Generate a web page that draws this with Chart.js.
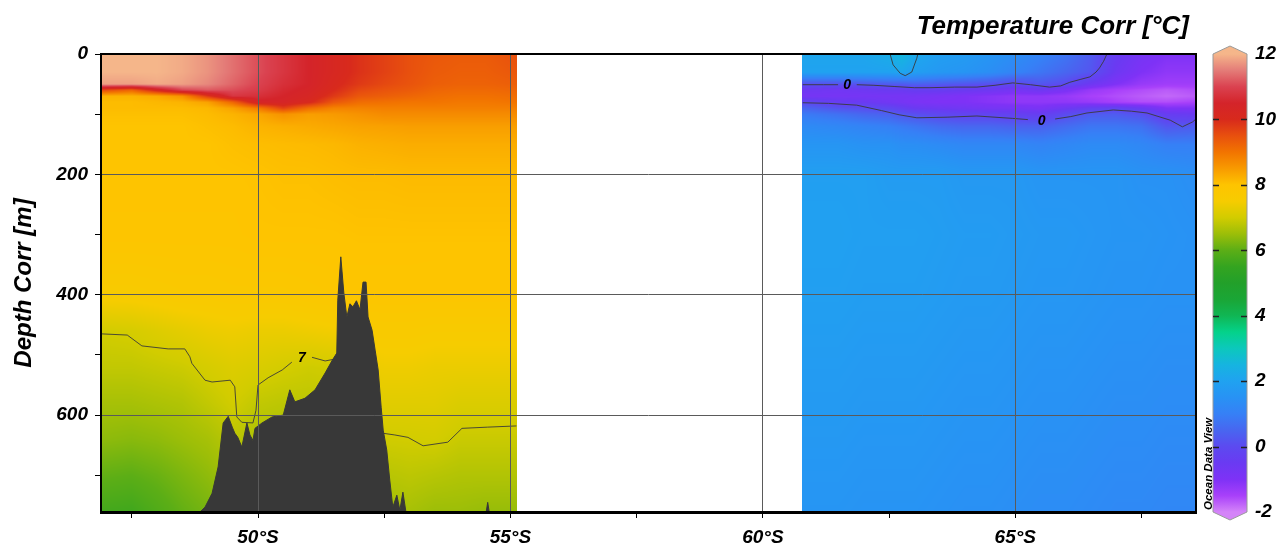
<!DOCTYPE html>
<html>
<head>
<meta charset="utf-8">
<title>Temperature Corr section</title>
<script src="https://cdn.jsdelivr.net/npm/chart.js@4.4.1/dist/chart.umd.min.js"></script>
<style>
  html, body { margin: 0; padding: 0; background: #fff; }
  #section { display: block; width: 1279px; height: 548px; }
</style>
</head>
<body>
<canvas id="section" width="1279" height="548"></canvas>
<script>
// axis ranges and ticks
const latMin = 46.89, latMax = 68.58;
const depthMax = 761;
const tempMin = -2, tempMax = 12;
const latTicks = [47.5, 50, 52.5, 55, 57.5, 60, 62.5, 65, 67.5];
const latLabelled = [50, 55, 60, 65];
const depthTicks = [0, 100, 200, 300, 400, 500, 600, 700];
const depthLabelled = [0, 200, 400, 600];
const tempTicks = [-2, 0, 2, 4, 6, 8, 10, 12];

// gridded temperature (rows = depthLevels, columns = station latitudes)
const depthLevels = [0, 30, 50, 60, 70, 80, 90, 100, 120, 150, 200, 300, 400, 460, 520, 580, 640, 700, 761];

const latWest = [46.89, 47.5, 48, 48.5, 49, 49.5, 50, 50.5, 51, 51.5, 52, 52.5, 53, 53.5, 54, 54.5, 55.13];
const tempWest = [
  [12.0, 12.0, 12.0, 11.9, 11.7, 11.4, 11.1, 10.8, 10.5, 10.2, 9.9, 9.7, 9.5, 9.4, 9.35, 9.35, 9.5],
  [12.0, 12.0, 12.0, 11.9, 11.7, 11.4, 11.1, 10.8, 10.5, 10.2, 9.9, 9.7, 9.5, 9.35, 9.3, 9.3, 9.4],
  [11.8, 11.8, 11.9, 11.8, 11.6, 11.3, 11.0, 10.7, 10.5, 10.1, 9.8, 9.6, 9.45, 9.3, 9.25, 9.25, 9.3],
  [9.6, 9.2, 10.2, 11.0, 11.2, 11.1, 10.9, 10.6, 10.4, 10.0, 9.6, 9.45, 9.35, 9.2, 9.15, 9.15, 9.2],
  [8.2, 8.2, 8.3, 8.6, 9.8, 10.8, 10.7, 10.5, 10.3, 9.8, 9.4, 9.3, 9.2, 9.1, 9.05, 9.05, 9.1],
  [8.1, 8.1, 8.15, 8.2, 8.4, 9.2, 10.4, 10.4, 10.1, 9.4, 9.1, 9.05, 9.0, 9.0, 8.95, 8.95, 9.0],
  [8.1, 8.1, 8.1, 8.1, 8.15, 8.4, 8.9, 9.7, 9.1, 8.8, 8.8, 8.85, 8.85, 8.85, 8.85, 8.85, 8.85],
  [8.05, 8.05, 8.05, 8.05, 8.1, 8.2, 8.35, 8.6, 8.45, 8.5, 8.6, 8.7, 8.7, 8.7, 8.7, 8.7, 8.7],
  [8.0, 8.0, 8.0, 8.0, 8.05, 8.1, 8.2, 8.25, 8.3, 8.35, 8.4, 8.42, 8.45, 8.45, 8.45, 8.45, 8.45],
  [8.0, 8.0, 8.0, 8.0, 8.0, 8.05, 8.08, 8.1, 8.12, 8.15, 8.22, 8.25, 8.28, 8.28, 8.28, 8.28, 8.28],
  [8.0, 8.0, 8.0, 8.0, 8.0, 8.0, 8.02, 8.05, 8.05, 8.08, 8.1, 8.1, 8.12, 8.12, 8.12, 8.12, 8.12],
  [7.95, 7.95, 7.95, 7.95, 7.95, 7.95, 8.0, 8.0, 8.0, 8.0, 8.02, 8.02, 8.02, 8.02, 8.02, 8.02, 8.02],
  [7.6, 7.6, 7.65, 7.7, 7.7, 7.75, 7.75, 7.75, 7.8, 7.85, 7.92, 7.92, 7.92, 7.9, 7.9, 7.9, 7.9],
  [7.0, 7.05, 7.15, 7.25, 7.35, 7.4, 7.35, 7.35, 7.4, 7.45, 7.6, 7.65, 7.65, 7.6, 7.6, 7.6, 7.6],
  [6.85, 6.85, 6.9, 6.95, 7.05, 7.15, 7.1, 7.03, 6.97, 7.0, 7.35, 7.4, 7.4, 7.35, 7.35, 7.35, 7.35],
  [6.6, 6.6, 6.65, 6.7, 6.85, 7.0, 6.85, 6.8, 6.8, 6.85, 7.15, 7.2, 7.2, 7.2, 7.12, 7.12, 7.12],
  [6.4, 6.35, 6.4, 6.5, 6.6, 6.8, 6.65, 6.6, 6.6, 6.65, 6.95, 6.98, 7.0, 7.02, 6.92, 6.92, 6.92],
  [6.05, 6.0, 6.1, 6.25, 6.4, 6.6, 6.45, 6.45, 6.45, 6.5, 6.75, 6.75, 6.8, 6.75, 6.7, 6.7, 6.7],
  [5.7, 5.65, 5.85, 6.05, 6.2, 6.4, 6.3, 6.3, 6.3, 6.35, 6.55, 6.55, 6.6, 6.5, 6.5, 6.45, 6.45]
];

const latEast = [60.79, 61.5, 62, 62.5, 62.75, 63, 63.5, 64, 64.5, 65, 65.5, 66, 66.5, 67, 67.5, 68, 68.58];
const tempEast = [
  [2.1, 2.1, 2.1, 2.3, 2.6, 2.2, 1.9, 1.8, 1.6, 1.4, 1.1, 0.8, 0.3, -0.4, -0.8, -1.0, -1.0],
  [2.0, 2.0, 2.0, 2.0, 2.1, 1.9, 1.7, 1.6, 1.4, 1.1, 0.8, 0.5, 0.2, -0.6, -1.0, -1.2, -1.2],
  [0.1, 0.1, 0.2, 0.3, 0.3, 0.4, 0.3, 0.2, 0.1, -0.1, 0.2, 0.0, -0.6, -1.0, -1.3, -1.4, -1.4],
  [-0.6, -0.7, -0.6, -0.5, -0.5, -0.4, -0.4, -0.5, -0.6, -0.8, -0.6, -0.9, -1.3, -1.5, -1.6, -1.7, -1.6],
  [-0.8, -0.8, -0.8, -0.8, -0.8, -0.8, -0.9, -1.0, -1.1, -1.2, -1.2, -1.3, -1.5, -1.6, -1.7, -1.8, -1.7],
  [-0.05, -0.4, -0.5, -0.7, -0.8, -0.9, -1.0, -1.0, -1.1, -1.2, -1.2, -1.2, -1.3, -1.5, -1.6, -1.6, -1.5],
  [0.5, 0.15, 0.05, -0.1, -0.3, -0.5, -0.6, -0.7, -0.8, -0.8, -0.9, -0.6, -0.3, -0.2, -0.5, -1.0, -1.0],
  [0.9, 0.7, 0.5, 0.4, 0.2, 0.1, -0.1, -0.2, -0.2, -0.3, -0.4, 0.0, 0.3, 0.3, 0.1, -0.4, -0.5],
  [1.3, 1.2, 1.1, 1.0, 0.9, 0.8, 0.6, 0.5, 0.5, 0.4, 0.4, 0.6, 0.8, 0.8, 0.7, 0.2, 0.3],
  [1.6, 1.6, 1.5, 1.5, 1.4, 1.4, 1.3, 1.2, 1.2, 1.2, 1.1, 1.2, 1.3, 1.3, 1.2, 1.0, 1.0],
  [1.9, 1.9, 1.9, 1.8, 1.8, 1.8, 1.8, 1.7, 1.7, 1.7, 1.6, 1.6, 1.6, 1.6, 1.5, 1.5, 1.4],
  [1.95, 1.95, 1.9, 1.9, 1.9, 1.9, 1.85, 1.8, 1.8, 1.75, 1.7, 1.7, 1.65, 1.6, 1.6, 1.55, 1.5],
  [1.9, 1.9, 1.85, 1.85, 1.85, 1.85, 1.8, 1.75, 1.75, 1.7, 1.65, 1.65, 1.6, 1.55, 1.55, 1.5, 1.5],
  [1.85, 1.85, 1.8, 1.8, 1.8, 1.8, 1.75, 1.7, 1.7, 1.65, 1.6, 1.6, 1.55, 1.5, 1.5, 1.45, 1.45],
  [1.8, 1.8, 1.75, 1.75, 1.75, 1.75, 1.7, 1.65, 1.65, 1.6, 1.55, 1.55, 1.5, 1.45, 1.45, 1.4, 1.4],
  [1.75, 1.75, 1.7, 1.7, 1.7, 1.7, 1.65, 1.6, 1.6, 1.55, 1.5, 1.5, 1.45, 1.4, 1.4, 1.35, 1.35],
  [1.7, 1.7, 1.65, 1.65, 1.65, 1.65, 1.6, 1.55, 1.55, 1.5, 1.45, 1.45, 1.4, 1.35, 1.35, 1.3, 1.3],
  [1.65, 1.65, 1.6, 1.6, 1.6, 1.6, 1.55, 1.5, 1.5, 1.45, 1.4, 1.4, 1.35, 1.3, 1.3, 1.25, 1.25],
  [1.6, 1.6, 1.55, 1.55, 1.55, 1.55, 1.5, 1.45, 1.45, 1.4, 1.35, 1.35, 1.3, 1.25, 1.25, 1.2, 1.2]
];

// seabed profile
const seabedLat = [48.85, 48.95, 49.09, 49.21, 49.31, 49.41, 49.49, 49.54, 49.60, 49.68, 49.78, 49.84, 49.90, 49.94,
  50.08, 50.28, 50.50, 50.63, 50.73, 50.93, 51.13, 51.33, 51.47, 51.56, 51.58, 51.64, 51.70, 51.76, 51.82, 51.88,
  51.95, 52.02, 52.08, 52.14, 52.18, 52.26, 52.32, 52.38, 52.44, 52.48, 52.55, 52.61, 52.67, 52.75, 52.81, 52.87,
  52.93, 54.52, 54.55, 54.58];
const seabedDepth = [761, 753, 730, 686, 613, 602, 620, 630, 637, 653, 613, 633, 642, 622,
  613, 603, 600, 558, 578, 572, 558, 530, 509, 497, 409, 337, 397, 437, 415, 420,
  410, 425, 379, 379, 437, 459, 492, 525, 587, 625, 658, 708, 753, 733, 758, 728,
  761, 761, 745, 761];

// contour lines [lat, depth], split where the labels sit
const iso7WestA = [[46.89, 465], [47.41, 467], [47.70, 485], [48.22, 490], [48.55, 490], [48.65, 503], [48.69, 514],
  [48.95, 542], [49.09, 545], [49.45, 542], [49.54, 553], [49.58, 603], [49.68, 612], [49.90, 613], [49.96, 592],
  [50.0, 550], [50.20, 538], [50.48, 525], [50.67, 512]];
const iso7WestB = [[51.07, 504], [51.33, 510], [51.52, 507]];
const iso7WestC = [[52.46, 630], [52.71, 633], [52.97, 637], [53.27, 651], [53.76, 645], [54.04, 622], [54.55, 620], [55.12, 618]];
const iso0UpperA = [[60.79, 51], [61.2, 51], [61.49, 51]];
const iso0UpperB = [[61.86, 51], [62.2, 52], [62.6, 54], [63.0, 56], [63.31, 56], [63.8, 55], [64.24, 55], [64.6, 52],
  [64.95, 48], [65.3, 51], [65.68, 55], [65.9, 53], [66.08, 47], [66.3, 42], [66.48, 38], [66.6, 30], [66.67, 23],
  [66.75, 12], [66.81, 1], [66.82, 0]];
const iso0LowerA = [[60.79, 81], [61.3, 82], [61.86, 85], [62.35, 94], [62.7, 101], [63.05, 106], [63.65, 105],
  [64.24, 103], [64.95, 107], [65.25, 109]];
const iso0LowerB = [[65.79, 108], [66.1, 104], [66.42, 98], [66.94, 93], [67.3, 95], [67.61, 98], [68.07, 110],
  [68.31, 121], [68.51, 113], [68.58, 108]];
const isoCap = [[62.52, 0], [62.58, 18], [62.72, 32], [62.82, 36], [62.95, 30], [63.05, 7], [63.07, 0]];
const contourLabels = [
  { text: '7', lat: 50.87, depth: 506 },
  { text: '0', lat: 61.67, depth: 52 },
  { text: '0', lat: 65.52, depth: 111 }
];

// colour palette
const cmapValues = [-2, -1.5, -1, -0.5, 0, 0.5, 1, 1.5, 2, 2.5, 3, 3.5, 4, 4.5, 5, 5.5, 6, 6.5, 7, 7.5, 8, 8.5, 9, 9.5, 10, 10.5, 11, 11.5, 12];
const cmapColors = ['#d484f8', '#a840fa', '#7e32f6', '#6a3af2', '#5c4af0', '#4866f0', '#3680f6', '#2892f4', '#20a2f0',
  '#16b4e0', '#0cc8bc', '#04d28a', '#10b654', '#1aa636', '#22a02a', '#34a420', '#5cae16', '#9cbe08', '#d2cc00',
  '#f6cc00', '#fec400', '#f89a00', '#f27400', '#e8500e', '#d82a1c', '#d4242a', '#da4250', '#e47c78', '#f5b68a'];

const FONT = '"Liberation Sans", Arial, sans-serif';
const tickFont = { family: FONT, size: 19, style: 'italic', weight: 'bold' };

function hexRgb(h) {
  return [parseInt(h.slice(1, 3), 16), parseInt(h.slice(3, 5), 16), parseInt(h.slice(5, 7), 16)];
}
const cmapRgb = cmapColors.map(hexRgb);

function colourAt(t) {
  if (t <= cmapValues[0]) return cmapRgb[0];
  const n = cmapValues.length - 1;
  if (t >= cmapValues[n]) return cmapRgb[n];
  let i = 0;
  while (t > cmapValues[i + 1]) i++;
  const f = (t - cmapValues[i]) / (cmapValues[i + 1] - cmapValues[i]);
  const a = cmapRgb[i], b = cmapRgb[i + 1];
  return [a[0] + (b[0] - a[0]) * f, a[1] + (b[1] - a[1]) * f, a[2] + (b[2] - a[2]) * f];
}

function locate(arr, v) {
  let i = 0;
  while (i < arr.length - 2 && v > arr[i + 1]) i++;
  const f = Math.min(1, Math.max(0, (v - arr[i]) / (arr[i + 1] - arr[i])));
  return [i, f];
}

// paints the gridded field inside the plot area, positioned through the x/y scales
const fieldPlugin = {
  id: 'tempField',
  beforeDatasetsDraw(chart) {
    const { ctx, chartArea: area, scales } = chart;
    const w = Math.round(area.right - area.left);
    const h = Math.round(area.bottom - area.top);
    const off = document.createElement('canvas');
    off.width = w; off.height = h;
    const octx = off.getContext('2d');
    const img = octx.createImageData(w, h);
    const sections = [{ lats: latWest, grid: tempWest }, { lats: latEast, grid: tempEast }];

    const cols = [];
    for (let px = 0; px < w; px++) {
      const lat = scales.x.getValueForPixel(area.left + px + 0.5);
      let info = null;
      sections.forEach(s => {
        if (lat >= s.lats[0] - 0.02 && lat <= s.lats[s.lats.length - 1]) {
          const [i, f] = locate(s.lats, lat);
          info = { g: s.grid, i, f };
        }
      });
      cols.push(info);
    }
    for (let py = 0; py < h; py++) {
      const depth = scales.y.getValueForPixel(area.top + py + 0.5);
      const [j, g] = locate(depthLevels, depth);
      for (let px = 0; px < w; px++) {
        const c = cols[px];
        if (!c) continue;
        const G = c.g;
        const up = G[j][c.i] * (1 - c.f) + G[j][c.i + 1] * c.f;
        const dn = G[j + 1][c.i] * (1 - c.f) + G[j + 1][c.i + 1] * c.f;
        const rgb = colourAt(up * (1 - g) + dn * g);
        const k = (py * w + px) * 4;
        img.data[k] = rgb[0];
        img.data[k + 1] = rgb[1];
        img.data[k + 2] = rgb[2];
        img.data[k + 3] = 255;
      }
    }
    octx.putImageData(img, 0, 0);
    ctx.drawImage(off, area.left, area.top);
  }
};

// frame, colour bar, labels
const decorPlugin = {
  id: 'decor',
  afterDraw(chart) {
    const { ctx, chartArea: a, scales: { x, y, cb } } = chart;
    ctx.save();

    ctx.fillStyle = '#000';
    ctx.font = `italic bold 14px ${FONT}`;
    ctx.textAlign = 'center';
    ctx.textBaseline = 'middle';
    contourLabels.forEach(l => ctx.fillText(l.text, x.getPixelForValue(l.lat), y.getPixelForValue(l.depth)));

    ctx.strokeStyle = '#000';
    ctx.lineWidth = 2;
    ctx.strokeRect(a.left, a.top, a.right - a.left, a.bottom - a.top);
    ctx.lineWidth = 3;
    ctx.beginPath();
    ctx.moveTo(a.left - 1, a.bottom + 0.5);
    ctx.lineTo(a.right + 1, a.bottom + 0.5);
    ctx.stroke();

    // colour bar with pointed ends
    const top = cb.getPixelForValue(tempMax), bot = cb.getPixelForValue(tempMin);
    const bx0 = cb.left + 17, bx1 = cb.left + 51, mid = (bx0 + bx1) / 2;
    const grad = ctx.createLinearGradient(0, top, 0, bot);
    cmapValues.forEach((v, i) => grad.addColorStop((tempMax - v) / (tempMax - tempMin), cmapColors[i]));
    ctx.beginPath();
    ctx.moveTo(bx0, top);
    ctx.lineTo(mid, top - 8);
    ctx.lineTo(bx1, top);
    ctx.lineTo(bx1, bot);
    ctx.lineTo(mid, bot + 8);
    ctx.lineTo(bx0, bot);
    ctx.closePath();
    ctx.fillStyle = grad;
    ctx.fill();
    ctx.strokeStyle = '#9a9a9a';
    ctx.lineWidth = 1;
    ctx.stroke();

    ctx.strokeStyle = '#222';
    ctx.lineWidth = 1.5;
    tempTicks.slice(1, -1).forEach(v => {
      const py = Math.round(cb.getPixelForValue(v)) + 0.5;
      ctx.beginPath();
      ctx.moveTo(bx0, py); ctx.lineTo(bx0 + 6, py);
      ctx.moveTo(bx1 - 6, py); ctx.lineTo(bx1, py);
      ctx.stroke();
    });

    ctx.fillStyle = '#000';
    ctx.font = `italic bold 26px ${FONT}`;
    ctx.textAlign = 'right';
    ctx.textBaseline = 'alphabetic';
    ctx.fillText('Temperature Corr [°C]', a.right - 7, 34);

    ctx.font = `italic bold 11.5px ${FONT}`;
    ctx.textAlign = 'left';
    ctx.translate(cb.left + 16, a.bottom - 2);
    ctx.rotate(-Math.PI / 2);
    ctx.fillText('Ocean Data View', 0, 0);
    ctx.restore();
  }
};

const lineSet = (label, pts) => ({
  label,
  data: pts.map(p => ({ x: p[0], y: p[1] })),
  borderColor: '#3a3a3a',
  borderWidth: 0.9,
  pointRadius: 0,
  fill: false,
  tension: 0
});

new Chart(document.getElementById('section'), {
  type: 'line',
  data: {
    datasets: [
      {
        label: 'Seabed',
        data: seabedLat.map((lat, i) => ({ x: lat, y: seabedDepth[i] })),
        borderColor: '#383838',
        backgroundColor: '#383838',
        borderWidth: 1,
        pointRadius: 0,
        tension: 0,
        fill: { value: depthMax }
      },
      lineSet('7 a', iso7WestA),
      lineSet('7 b', iso7WestB),
      lineSet('7 c', iso7WestC),
      lineSet('0 upper a', iso0UpperA),
      lineSet('0 upper b', iso0UpperB),
      lineSet('0 lower a', iso0LowerA),
      lineSet('0 lower b', iso0LowerB),
      lineSet('cap', isoCap)
    ]
  },
  options: {
    responsive: false,
    animation: false,
    events: [],
    layout: { padding: { top: 54, left: 0, right: 0, bottom: 0 } },
    plugins: { legend: { display: false }, tooltip: { enabled: false } },
    scales: {
      x: {
        type: 'linear',
        min: latMin,
        max: latMax,
        afterBuildTicks: s => { s.ticks = latTicks.map(v => ({ value: v })); },
        afterFit: s => { s.height = 36; s.paddingLeft = 0; s.paddingRight = 0; },
        ticks: {
          autoSkip: false,
          maxRotation: 0,
          color: '#000',
          font: tickFont,
          padding: 8,
          callback: v => latLabelled.includes(v) ? `${v}°S` : ''
        },
        grid: {
          z: 1,
          color: c => latLabelled.includes(c.tick && c.tick.value) ? '#5a5a5a' : 'rgba(0,0,0,0)',
          tickColor: '#000',
          tickLength: 6,
          lineWidth: 1
        },
        border: { display: false }
      },
      y: {
        type: 'linear',
        reverse: true,
        min: 0,
        max: depthMax,
        afterBuildTicks: s => { s.ticks = depthTicks.map(v => ({ value: v })); },
        afterFit: s => { s.width = 101; s.paddingTop = 0; s.paddingBottom = 0; },
        ticks: {
          autoSkip: false,
          color: '#000',
          font: tickFont,
          padding: 7,
          callback: v => depthLabelled.includes(v) ? String(v) : ''
        },
        grid: {
          z: 1,
          color: c => (c.tick && c.tick.value > 0 && depthLabelled.includes(c.tick.value)) ? '#5a5a5a' : 'rgba(0,0,0,0)',
          tickColor: '#000',
          tickLength: 6,
          lineWidth: 1
        },
        border: { display: false },
        title: {
          display: true,
          text: 'Depth Corr [m]',
          color: '#000',
          font: { family: FONT, size: 24, style: 'italic', weight: 'bold' },
          padding: { top: 10, bottom: 0 }
        }
      },
      cb: {
        type: 'linear',
        position: 'right',
        min: tempMin,
        max: tempMax,
        afterBuildTicks: s => { s.ticks = tempTicks.map(v => ({ value: v })); },
        afterFit: s => { s.width = 83; s.paddingTop = 0; s.paddingBottom = 0; },
        ticks: { color: '#000', font: tickFont, padding: 59, autoSkip: false },
        grid: { display: false, drawTicks: false },
        border: { display: false }
      }
    }
  },
  plugins: [fieldPlugin, decorPlugin]
});
</script>
</body>
</html>
